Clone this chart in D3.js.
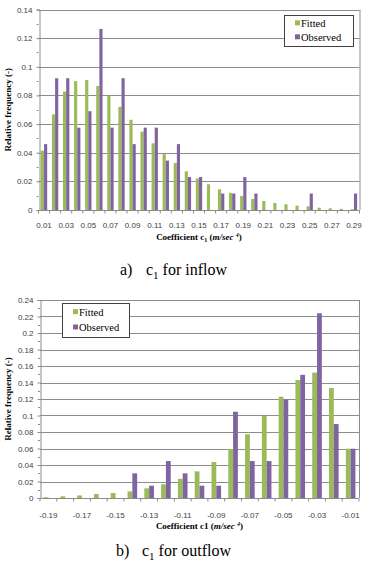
<html>
<head>
<style>
  body{margin:0;background:#fff}
  svg{display:block}
  .tick-label{font-family:"Liberation Sans",Arial,sans-serif;font-size:8px;fill:#404040}
  .grid{stroke:#8c8c8c;stroke-width:1px}
  .axis{stroke:#8c8c8c;stroke-width:1px;fill:none}
  .title{font-family:"Liberation Serif","Times New Roman",serif;font-size:9px;font-weight:bold;fill:#000}
  .legend text{font-family:"Liberation Serif","Times New Roman",serif;font-size:10.5px;fill:#000}
  .caption{font-family:"Liberation Serif","Times New Roman",serif;font-size:16px;fill:#000}
</style>
</head>
<body>
<div id="charts"></div>
<script src="https://d3js.org/d3.v7.min.js"></script>
<script>
// ---- data ----
var series = ['Fitted', 'Observed'];
var colors = ['#9bbb59', '#8064a2'];

var inflowCats = ['0.01','0.02','0.03','0.04','0.05','0.06','0.07','0.08','0.09','0.10',
                  '0.11','0.12','0.13','0.14','0.15','0.16','0.17','0.18','0.19','0.20',
                  '0.21','0.22','0.23','0.24','0.25','0.26','0.27','0.28','0.29'];
var inflowFitted = [0.0414,0.0668,0.0827,0.0900,0.0908,0.0866,0.0799,0.0720,0.0630,0.0547,
                    0.0466,0.0390,0.0328,0.0270,0.0220,0.0180,0.0144,0.0120,0.0098,0.0077,
                    0.0063,0.0049,0.0040,0.0030,0.0026,0.0016,0.0012,0.0008,0.0006];
var inflowObserved = [0.0460,0.0920,0.0920,0.0575,0.0690,0.1264,0.0575,0.0920,0.0460,0.0575,
                      0.0575,0.0345,0.0460,0.0230,0.0230,0,0.0115,0.0115,0.0230,0.0115,
                      0,0,0,0,0.0115,0,0,0,0.0115];
var inflowLabels = ['0.01','0.03','0.05','0.07','0.09','0.11','0.13','0.15','0.17','0.19',
                    '0.21','0.23','0.25','0.27','0.29'];
var inflowYTicks = [0,0.02,0.04,0.06,0.08,0.1,0.12,0.14];

var outflowCats = ['-0.19','-0.18','-0.17','-0.16','-0.15','-0.14','-0.13','-0.12','-0.11','-0.10',
                   '-0.09','-0.08','-0.07','-0.06','-0.05','-0.04','-0.03','-0.02','-0.01'];
var outflowFitted = [0.0010,0.0020,0.0031,0.0048,0.0060,0.0080,0.0117,0.0166,0.0232,0.0323,
                     0.0436,0.0594,0.0772,0.0998,0.1228,0.1430,0.1520,0.1333,0.0598];
var outflowObserved = [0,0,0,0,0,0.0299,0.0149,0.0448,0.0299,0.0149,
                       0.0149,0.1045,0.0448,0.0448,0.1194,0.1493,0.2239,0.0896,0.0597];
var outflowLabels = ['-0.19','-0.17','-0.15','-0.13','-0.11','-0.09','-0.07','-0.05','-0.03','-0.01'];
var outflowYTicks = [0,0.02,0.04,0.06,0.08,0.1,0.12,0.14,0.16,0.18,0.2,0.22,0.24];

var svg = d3.select('#charts').append('svg')
  .attr('width', 366)
  .attr('height', 563);

svg.append('rect').attr('width', 366).attr('height', 563).attr('fill', '#fff');

function drawChart(o) {
  var g = svg.append('g');
  var x = d3.scaleBand().domain(o.cats).range([o.left, o.right]);
  var xs = d3.scaleBand().domain(series).range([0, x.bandwidth()]).paddingOuter(0.75);
  var y = d3.scaleLinear().domain([0, o.yTicks[o.yTicks.length - 1]]).range([o.bottom, o.top]);
  var fmt = function (d) { return String(+d.toFixed(2)); };

  // gridlines
  g.selectAll('.grid').data(o.yTicks.slice(1)).enter().append('line')
    .attr('class', 'grid')
    .attr('x1', o.left).attr('x2', o.right)
    .attr('y1', function (d) { return Math.round(y(d)) + 0.5; })
    .attr('y2', function (d) { return Math.round(y(d)) + 0.5; });

  // right border
  g.append('line').attr('class', 'axis')
    .attr('x1', o.right + 0.5).attr('x2', o.right + 0.5)
    .attr('y1', y(o.yTicks[o.yTicks.length - 1])).attr('y2', y(0));

  // bars
  series.forEach(function (s, si) {
    var vals = si === 0 ? o.fitted : o.observed;
    g.selectAll('.bar' + si).data(vals).enter().append('rect')
      .attr('x', function (d, i) { return x(o.cats[i]) + xs(s); })
      .attr('width', xs.bandwidth())
      .attr('y', function (d) { return y(d); })
      .attr('height', function (d) { return y(0) - y(d); })
      .attr('fill', colors[si]);
  });

  // y axis
  var ya = g.append('g')
    .attr('transform', 'translate(' + (Math.round(o.left) + 0.5) + ',0)')
    .call(d3.axisLeft(y).tickValues(o.yTicks).tickFormat(fmt).tickSize(3).tickPadding(4));
  ya.select('.domain').attr('stroke', '#8c8c8c');
  ya.selectAll('.tick line').attr('stroke', '#8c8c8c');
  ya.selectAll('.tick text').attr('class', 'tick-label').attr('fill', null)
    .style('font-family', '"Liberation Sans",Arial,sans-serif').style('font-size', '8px');

  // minor y ticks
  var minor = d3.range(0, o.yTicks.length - 1).map(function (i) { return (o.yTicks[i] + o.yTicks[i + 1]) / 2; });
  g.selectAll('.minor').data(minor).enter().append('line')
    .attr('class', 'axis')
    .attr('x1', o.left - 2).attr('x2', o.left)
    .attr('y1', function (d) { return Math.round(y(d)) + 0.5; })
    .attr('y2', function (d) { return Math.round(y(d)) + 0.5; });

  // x axis line and boundary ticks
  var yb = Math.round(y(0)) + 0.5;
  g.append('line').attr('class', 'axis')
    .attr('x1', o.left).attr('x2', o.right).attr('y1', yb).attr('y2', yb);
  g.selectAll('.xtick').data(o.cats.concat(['end'])).enter().append('line')
    .attr('class', 'axis')
    .attr('x1', function (d, i) { return i < o.cats.length ? x(d) : o.right; })
    .attr('x2', function (d, i) { return i < o.cats.length ? x(d) : o.right; })
    .attr('y1', yb).attr('y2', yb + 3);

  g.selectAll('.xlab').data(o.labels).enter().append('text')
    .attr('class', 'tick-label')
    .attr('x', function (d) { return x(d) + x.bandwidth() / 2; })
    .attr('y', o.xLabelY)
    .attr('text-anchor', 'middle')
    .text(function (d) { return d; });

  // axis titles
  g.append('text').attr('class', 'title')
    .attr('transform', 'translate(11,' + ((o.top + o.bottom) / 2) + ') rotate(-90)')
    .attr('text-anchor', 'middle')
    .text('Relative frequency (-)');

  var xt = g.append('text').attr('class', 'title')
    .attr('x', (o.left + o.right) / 2).attr('y', o.xTitleY)
    .attr('text-anchor', 'middle');
  xt.append('tspan').text('Coefficient c');
  if (o.sub) {
    xt.append('tspan').attr('dy', 2).style('font-size', '6px').text('1');
    xt.append('tspan').attr('dy', -2).text(' (');
  } else {
    xt.append('tspan').text('1 (');
  }
  xt.append('tspan').style('font-style', 'italic').text('m/sec ');
  xt.append('tspan').attr('dy', -3).style('font-size', '6px').style('font-style', 'italic').text('4');
  xt.append('tspan').attr('dy', 3).text(')');

  // legend
  var lg = g.append('g').attr('class', 'legend');
  lg.append('rect')
    .attr('x', o.legend[0] + 0.5).attr('y', o.legend[1] + 0.5)
    .attr('width', o.legend[2]).attr('height', o.legend[3])
    .attr('fill', '#fff').attr('stroke', '#404040');
  series.forEach(function (s, si) {
    var ly = o.legend[1] + o.legend[3] * (si === 0 ? 0.27 : 0.72);
    lg.append('rect')
      .attr('x', o.legend[0] + 11).attr('y', ly - 3)
      .attr('width', 5).attr('height', 5)
      .attr('fill', colors[si]);
    lg.append('text')
      .attr('x', o.legend[0] + 17).attr('y', ly + 3.5)
      .text(s);
  });

  // caption
  var cap = g.append('text').attr('class', 'caption').attr('y', o.capY);
  cap.append('tspan').attr('x', o.capX).text(o.capTag);
  cap.append('tspan').attr('x', o.capX + 26).text('c');
  cap.append('tspan').attr('dy', 4).style('font-size', '11px').text('1');
  cap.append('tspan').attr('dy', -4).text(' ' + o.capText);
}

drawChart({
  cats: inflowCats, fitted: inflowFitted, observed: inflowObserved,
  labels: inflowLabels, yTicks: inflowYTicks,
  left: 38.5, right: 359.5, top: 9.5, bottom: 210,
  xLabelY: 228, xTitleY: 240, sub: true,
  legend: [284, 15, 69, 31],
  capX: 120, capY: 275, capTag: 'a)', capText: 'for inflow'
});

drawChart({
  cats: outflowCats, fitted: outflowFitted, observed: outflowObserved,
  labels: outflowLabels, yTicks: outflowYTicks,
  left: 40, right: 359, top: 300, bottom: 498,
  xLabelY: 518, xTitleY: 529, sub: false,
  legend: [62, 303, 67, 34],
  capX: 116, capY: 556, capTag: 'b)', capText: 'for outflow'
});
</script>
</body>
</html>
